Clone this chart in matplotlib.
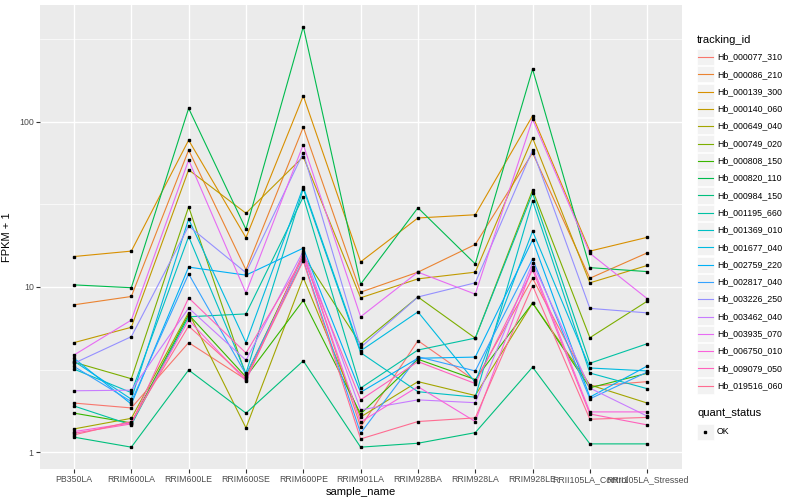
import matplotlib
matplotlib.use('Agg')
from matplotlib import pyplot as plt
from matplotlib.patches import Rectangle
from matplotlib.ticker import FixedLocator, NullFormatter

plt.rcParams['font.family'] = ['Liberation Sans', 'DejaVu Sans']

# x categories
samples = ['PB350LA', 'RRIM600LA', 'RRIM600LE', 'RRIM600SE', 'RRIM600PE',
           'RRIM901LA', 'RRIM928BA', 'RRIM928LA', 'RRIM928LE',
           'RRII105LA_Control', 'RRII105LA_Stressed']

tracking_ids = ['Hb_000077_310', 'Hb_000086_210', 'Hb_000139_300', 'Hb_000140_060',
                'Hb_000649_040', 'Hb_000749_020', 'Hb_000808_150', 'Hb_000820_110',
                'Hb_000984_150', 'Hb_001195_660', 'Hb_001369_010', 'Hb_001677_040',
                'Hb_002759_220', 'Hb_002817_040', 'Hb_003226_250', 'Hb_003462_040',
                'Hb_003935_070', 'Hb_006750_010', 'Hb_009079_050', 'Hb_019516_060']

# ggplot hue palette, 20 levels
colors = ['#F8766D', '#EA8331', '#D89000', '#C09B00', '#A3A500', '#7CAE00',
          '#39B600', '#00BB4E', '#00BF7D', '#00C1A3', '#00BFC4', '#00BAE0',
          '#00B0F6', '#35A2FF', '#9590FF', '#C77CFF', '#E76BF3', '#FA62DB',
          '#FF62BC', '#FF6C91']

# FPKM + 1 per tracking id, in sample order
hb_000077_310 = [1.98, 1.85, 4.6, 2.75, 16, 1.42, 4.73, 2.7, 11.3, 2.5, 2.67]
hb_000086_210 = [7.8, 8.76, 67.6, 12.7, 93, 9.3, 12.3, 18.1, 65, 11.3, 16.1]
hb_000139_300 = [15.3, 16.5, 77.6, 19.9, 144, 14.2, 26.2, 27.4, 109, 16.5, 20]
hb_000140_060 = [4.6, 5.7, 51.3, 28, 61.6, 8.6, 11.2, 12.3, 80, 10.6, 13.5]
hb_000649_040 = [1.38, 1.6, 7.0, 1.40, 11.4, 1.63, 2.67, 2.2, 8.0, 2.55, 1.98]
hb_000749_020 = [3.5, 2.78, 30.6, 2.9, 15.5, 4.5, 8.7, 4.9, 38.7, 4.93, 8.2]
hb_000808_150 = [1.72, 1.5, 6.8, 2.85, 8.3, 1.7, 3.65, 2.75, 8.0, 2.45, 3.0]
hb_000820_110 = [10.3, 9.9, 121, 22.4, 378, 10.4, 30.2, 13.8, 209, 13.1, 12.4]
hb_000984_150 = [1.23, 1.07, 3.14, 1.72, 3.57, 1.07, 1.13, 1.31, 3.27, 1.12, 1.12]
hb_001195_660 = [1.9, 1.46, 6.6, 6.87, 35.2, 2.44, 4.15, 4.9, 37, 3.45, 4.53]
hb_001369_010 = [3.18, 2.29, 20.2, 3.0, 39.4, 4.0, 2.32, 2.15, 33.3, 3.01, 2.42]
hb_001677_040 = [3.55, 2.09, 25.8, 4.6, 40.4, 4.1, 7.07, 2.65, 21.8, 3.23, 3.1]
hb_002759_220 = [3.7, 1.95, 13.2, 11.8, 17.2, 2.3, 3.7, 3.76, 19.3, 2.15, 3.32]
hb_002817_040 = [3.3, 2.02, 12.0, 2.95, 14.6, 1.3, 3.78, 3.1, 14.8, 2.1, 3.05]
hb_003226_250 = [3.45, 5.0, 23.4, 12.2, 65, 4.3, 8.7, 10.6, 67.6, 7.42, 6.97]
hb_003462_040 = [2.35, 2.37, 7.45, 3.6, 16.5, 1.8, 2.07, 1.99, 14, 2.44, 1.65]
hb_003935_070 = [3.87, 6.3, 58.8, 9.2, 73, 6.6, 12.3, 9.05, 104, 16.0, 8.5]
hb_006750_010 = [1.33, 1.5, 6.3, 2.7, 15.8, 1.52, 2.49, 1.53, 13.3, 1.75, 1.75]
hb_009079_050 = [1.30, 1.48, 8.6, 3.98, 15, 2.07, 3.53, 2.6, 12.7, 1.7, 1.46]
hb_019516_060 = [1.27, 1.53, 5.8, 2.8, 14.4, 1.2, 1.53, 1.61, 10.2, 1.58, 1.62]

series = [hb_000077_310, hb_000086_210, hb_000139_300, hb_000140_060,
          hb_000649_040, hb_000749_020, hb_000808_150, hb_000820_110,
          hb_000984_150, hb_001195_660, hb_001369_010, hb_001677_040,
          hb_002759_220, hb_002817_040, hb_003226_250, hb_003462_040,
          hb_003935_070, hb_006750_010, hb_009079_050, hb_019516_060]

W, H = 800, 500
fig = plt.figure(figsize=(8, 5), dpi=100)
ax = fig.add_axes([39.6 / W, 31 / H, 642 / W, 464 / H])
ax.set_facecolor('#EBEBEB')
for s in ax.spines.values():
    s.set_visible(False)

xs = list(range(len(samples)))
for vals, col in zip(series, colors):
    ax.plot(xs, vals, color=col, lw=0.8, zorder=2)
for vals in series:
    ax.plot(xs, vals, ls='none', marker='s', ms=2.1, color='black', zorder=3)

ax.set_yscale('log')
ax.set_ylim(10 ** -0.103, 10 ** 2.709)
ax.set_xlim(-0.6, len(samples) - 0.4)
ax.yaxis.set_major_locator(FixedLocator([1, 10, 100]))
ax.set_yticklabels(['1', '10', '100'])
ax.yaxis.set_minor_locator(FixedLocator([10 ** 0.5, 10 ** 1.5, 10 ** 2.5]))
ax.yaxis.set_minor_formatter(NullFormatter())
ax.set_xticks(xs)
ax.set_xticklabels(samples)

ax.grid(True, which='major', color='white', lw=1.0, zorder=1)
ax.grid(True, which='minor', axis='y', color='white', lw=0.5, zorder=1)
ax.set_axisbelow(True)
ax.tick_params(axis='both', which='major', length=2.7, width=0.8, color='#333333',
               labelsize=6.3, labelcolor='#4D4D4D', pad=1.5)
ax.tick_params(axis='y', which='minor', length=0)

ax.set_xlabel('sample_name', fontsize=8, labelpad=2)
ax.set_ylabel('FPKM + 1', fontsize=8, labelpad=5)

# legend, drawn ggplot style in pixel units
lax = fig.add_axes([0, 0, 1, 1], zorder=5)
lax.set_xlim(0, W)
lax.set_ylim(H, 0)
lax.axis('off')

lax.text(697, 40, 'tracking_id', fontsize=8, va='center', ha='left')
for i, (tid, col) in enumerate(zip(tracking_ids, colors)):
    yc = 57 + i * 17.3
    lax.add_patch(Rectangle((697, yc - 8.1), 16.6, 16.2, facecolor='#F2F2F2',
                            edgecolor='white', lw=0.5))
    lax.plot([698, 712.6], [yc, yc], color=col, lw=0.8)
    lax.text(717, yc, tid, fontsize=6.3, va='center', ha='left')

lax.text(697, 413, 'quant_status', fontsize=8, va='center', ha='left')
lax.add_patch(Rectangle((697, 432 - 8.1), 16.6, 16.2, facecolor='#F2F2F2',
                        edgecolor='white', lw=0.5))
lax.plot([705.3], [432], ls='none', marker='s', ms=2.1, color='black')
lax.text(717, 432, 'OK', fontsize=6.3, va='center', ha='left')

fig.savefig('out.png', dpi=100)
plt.close()
